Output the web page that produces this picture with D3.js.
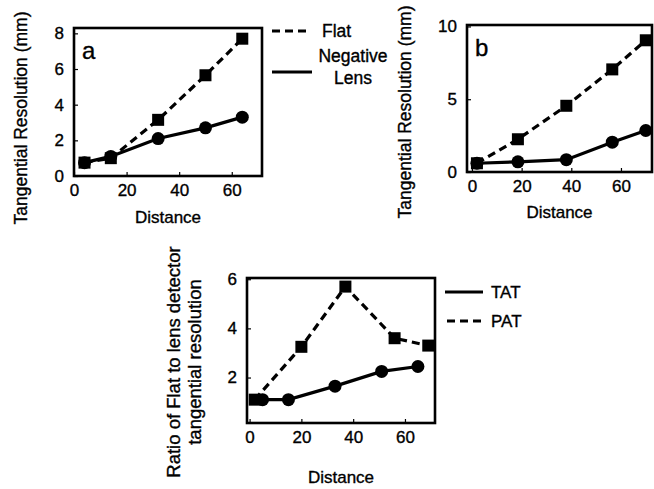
<!DOCTYPE html>
<html>
<head>
<meta charset="utf-8">
<script src="https://cdnjs.cloudflare.com/ajax/libs/d3/7.8.5/d3.min.js"></script>
<style>
  body { margin: 0; background: #fff; }
  svg { display: block; }
  text { font-family: "Liberation Sans", Arial, sans-serif; fill: #000; stroke: #000; stroke-width: 0.35; }
  .frame { fill: none; stroke: #000; stroke-width: 2.6; }
  .series { fill: none; stroke: #000; stroke-width: 3.2; }
  .dashed { stroke-dasharray: 8 5; }
</style>
</head>
<body>
<svg width="654" height="489"></svg>
<script>
// panel a
var distA = [4, 14, 32, 50, 64];
var flatA = [0.75, 1.0, 3.15, 5.65, 7.7];
var lensA = [0.75, 1.1, 2.1, 2.7, 3.3];
var ticksXA = [0, 20, 40, 60];
var ticksYA = [0, 2, 4, 6, 8];

// panel b
var distB = [2, 18.5, 38, 56.5, 70];
var flatB = [0.6, 2.25, 4.55, 7.05, 9.05];
var lensB = [0.6, 0.7, 0.85, 2.05, 2.85];
var ticksXB = [0, 20, 40, 60];
var ticksYB = [0, 5, 10];

// panel c (ratio)
var distPAT = [2, 20, 37, 56, 69];
var valPAT = [1.1, 3.25, 5.7, 3.6, 3.3];
var distTAT = [5, 15, 33, 51, 65];
var valTAT = [1.1, 1.1, 1.65, 2.25, 2.45];
var ticksXC = [0, 20, 40, 60];
var ticksYC = [2, 4, 6];

var svg = d3.select("svg");

function panel(p) {
    var x = d3.scaleLinear().domain(p.xd).range([p.x0, p.x1]);
    var y = d3.scaleLinear().domain(p.yd).range([p.y1, p.y0]);
    var g = svg.append("g");

    var line = d3.line()
        .x(function(d) { return x(d[0]); })
        .y(function(d) { return y(d[1]); });

    p.series.forEach(function(s) {
        var pts = d3.zip(s.x, s.y);
        g.append("path")
            .attr("class", "series" + (s.dash ? " dashed" : ""))
            .attr("d", line(pts));
        if (s.marker == "square") {
            g.selectAll(null).data(pts).enter().append("rect")
                .attr("x", function(d) { return x(d[0]) - 6; })
                .attr("y", function(d) { return y(d[1]) - 6; })
                .attr("width", 12)
                .attr("height", 12);
        } else {
            g.selectAll(null).data(pts).enter().append("circle")
                .attr("cx", function(d) { return x(d[0]); })
                .attr("cy", function(d) { return y(d[1]); })
                .attr("r", 6.5);
        }
    });

    // axes, ticks pointing inward
    var ax = g.append("g")
        .attr("transform", "translate(0," + p.y1 + ")")
        .call(d3.axisBottom(x).tickValues(p.tx).tickFormat(d3.format("d"))
            .tickSizeInner(-4).tickSizeOuter(0).tickPadding(8));
    var ay = g.append("g")
        .attr("transform", "translate(" + p.x0 + ",0)")
        .call(d3.axisLeft(y).tickValues(p.ty).tickFormat(d3.format("d"))
            .tickSizeInner(-4).tickSizeOuter(0).tickPadding(10));
    [ax, ay].forEach(function(a) {
        a.select(".domain").remove();
        a.selectAll("line").attr("stroke-width", 1.2);
        a.selectAll("text").attr("font-size", 17).attr("font-family", "Liberation Sans, Arial, sans-serif");
    });

    g.append("rect")
        .attr("class", "frame")
        .attr("x", p.x0).attr("y", p.y0)
        .attr("width", p.x1 - p.x0).attr("height", p.y1 - p.y0);

    if (p.letter) {
        g.append("text")
            .attr("x", p.x0 + 8).attr("y", p.y0 + 31)
            .attr("font-size", 24)
            .text(p.letter);
    }

    g.append("text")
        .attr("x", (p.x0 + p.x1) / 2).attr("y", p.xly)
        .attr("text-anchor", "middle")
        .attr("font-size", 17)
        .text("Distance");

    var yl = g.append("text")
        .attr("transform", "translate(" + p.ylx + "," + p.yly + ") rotate(-90)")
        .attr("text-anchor", "middle")
        .attr("font-size", p.ylsize);
    p.ylabel.forEach(function(t, i) {
        yl.append("tspan").attr("x", 0).attr("dy", i == 0 ? 0 : "1.15em").text(t);
    });
}

panel({
    x0: 74, x1: 262, y0: 28, y1: 176,
    xd: [0, 71.5], yd: [0, 8.3], tx: ticksXA, ty: ticksYA,
    letter: "a", xly: 223, ylx: 27, yly: 118, ylsize: 17.5,
    ylabel: ["Tangential Resolution (mm)"],
    series: [
        {x: distA, y: flatA, dash: true, marker: "square"},
        {x: distA, y: lensA, dash: false, marker: "circle"}
    ]
});

panel({
    x0: 467, x1: 652, y0: 25, y1: 172,
    xd: [-2, 72.5], yd: [0, 10.1], tx: ticksXB, ty: ticksYB,
    letter: "b", xly: 218, ylx: 411, yly: 112, ylsize: 17.5,
    ylabel: ["Tangential Resolution (mm)"],
    series: [
        {x: distB, y: flatB, dash: true, marker: "square"},
        {x: distB, y: lensB, dash: false, marker: "circle"}
    ]
});

panel({
    x0: 247, x1: 435, y0: 278, y1: 423,
    xd: [-1, 71.6], yd: [0.15, 6.05], tx: ticksXC, ty: ticksYC,
    letter: null, xly: 483, ylx: 180, yly: 362, ylsize: 18.5,
    ylabel: ["Ratio of Flat to lens detector", "tangential resolution"],
    series: [
        {x: distPAT, y: valPAT, dash: true, marker: "square"},
        {x: distTAT, y: valTAT, dash: false, marker: "circle"}
    ]
});

// legends
var legA = svg.append("g");
legA.append("line").attr("class", "series dashed")
    .attr("x1", 272).attr("x2", 311).attr("y1", 31).attr("y2", 31);
legA.append("text").attr("x", 322).attr("y", 37).attr("font-size", 17.5).text("Flat");
legA.append("line").attr("class", "series")
    .attr("x1", 272).attr("x2", 312).attr("y1", 72).attr("y2", 72);
legA.append("text").attr("x", 353).attr("y", 62).attr("text-anchor", "middle")
    .attr("font-size", 17.5).text("Negative");
legA.append("text").attr("x", 353).attr("y", 84).attr("text-anchor", "middle")
    .attr("font-size", 17.5).text("Lens");

var legC = svg.append("g");
legC.append("line").attr("class", "series")
    .attr("x1", 445).attr("x2", 483).attr("y1", 292).attr("y2", 292);
legC.append("text").attr("x", 491).attr("y", 298).attr("font-size", 17).text("TAT");
legC.append("line").attr("class", "series dashed")
    .attr("x1", 447).attr("x2", 483).attr("y1", 321).attr("y2", 321);
legC.append("text").attr("x", 491).attr("y", 327).attr("font-size", 17).text("PAT");
</script>
</body>
</html>
